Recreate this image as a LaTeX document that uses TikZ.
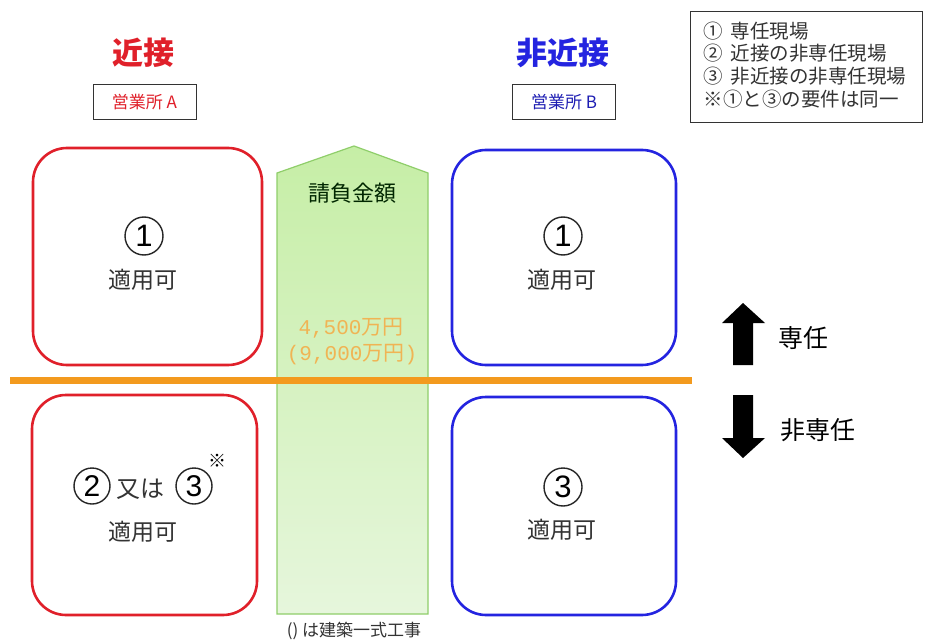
\documentclass[tikz,border=0pt]{standalone}
\usepackage{fontspec}
\setmainfont{Noto Sans CJK JP}
\newfontfamily\digitfont{Liberation Sans}
\newfontfamily\amountmono{Liberation Mono}
\definecolor{redbox}{HTML}{E0202A}
\definecolor{bluebox}{HTML}{2424E0}
\definecolor{greenedge}{HTML}{8FCE6A}
\definecolor{greentop}{HTML}{C6EEA6}
\definecolor{greenbot}{HTML}{E6F6DC}
\definecolor{orangeline}{HTML}{F39A1E}
\definecolor{amount}{HTML}{F0B454}
\definecolor{textgray}{HTML}{333333}
\tikzset{
  zone/.style={rounded corners=34pt, line width=2.6pt},
  office/.style={draw=textgray, line width=1pt, minimum width=103pt, minimum height=35pt, font=\fontsize{17}{17}\selectfont},
  circnum/.style={circle, draw=black!85, line width=1.4pt, minimum size=38pt, inner sep=0pt, font=\digitfont\fontsize{31}{31}\selectfont, text=black},
  circsmall/.style={circnum, minimum size=36pt, font=\digitfont\fontsize{30}{30}\selectfont},
  okay/.style={font=\fontsize{23}{23}\selectfont, text=textgray},
  legend/.style={font=\fontsize{19.5}{19.5}\selectfont, text=textgray, anchor=west},
  bigarrow/.style={fill=black},
  amt/.style={font=\fontsize{21}{21}\selectfont, text=amount},
}
\begin{document}
\begin{tikzpicture}[x=1pt,y=-1pt]
\useasboundingbox (0,0) rectangle (925,644);
\fill[white] (0,0) rectangle (925,644);
% legend
\node[draw=textgray, line width=1.3pt, minimum width=232pt, minimum height=111pt, anchor=north west] (legendbox) at (690,11) {};
\node[legend] (l1) at (700,31) {①\hspace{0.4em}専任現場};
\node[legend] (l2) at (700,53) {②\hspace{0.4em}近接の非専任現場};
\node[legend] (l3) at (700,76) {③\hspace{0.4em}非近接の非専任現場};
\node[legend] (l4) at (700,99) {※①と③の要件は同一};
% headings
\node[font=\fontsize{31}{31}\selectfont\bfseries, text=redbox] (near) at (143,53) {近接};
\node[office, text=redbox] (offA) at (144.5,102.5) {営業所 A};
\node[font=\fontsize{31}{31}\selectfont\bfseries, text=bluebox] (far) at (563,53) {非近接};
\node[office, text=bluebox!80!black] (offB) at (564,102.5) {営業所 B};
% green amount column
\shade[top color=greentop, bottom color=greenbot, draw=greenedge, line width=1.2pt]
  (277,614) -- (277,173) -- (354,146) -- (428,173) -- (428,614) -- cycle;
\node[font=\fontsize{22}{22}\selectfont, text=black!85!green] (amounttitle) at (352,193) {請負金額};
\node[amt] (amt1) at (351,328) {{\amountmono 4,500}万円};
\node[amt] (amt2) at (352,355) {{\amountmono (9,000}万円{\amountmono )}};
\node[font=\fontsize{17}{17}\selectfont, text=textgray] (note) at (354,631) {() は建築一式工事};
% zones
\draw[zone, draw=redbox] (33,148) rectangle (262,365);
\draw[zone, draw=redbox] (32,395) rectangle (257,615);
\draw[zone, draw=bluebox] (452,150) rectangle (676,365);
\draw[zone, draw=bluebox] (452,397) rectangle (676,615);
% zone contents
\node[circnum] (a1) at (144,236) {1};
\node[okay] (a1ok) at (143,280) {適用可};
\node[circsmall] (a2) at (92,486) {2};
\node[font=\fontsize{24}{24}\selectfont, text=textgray] (orwa) at (140,489) {又は};
\node[circsmall] (a3) at (194,486) {3};
\node[font=\fontsize{18}{18}\selectfont\bfseries] (mark) at (217,461) {※};
\node[okay] (a23ok) at (143,532) {適用可};
\node[circnum] (b1) at (563,236) {1};
\node[okay] (b1ok) at (562,280) {適用可};
\node[circnum] (b3) at (563,487) {3};
\node[okay] (b3ok) at (562,530) {適用可};
% orange threshold line
\draw[orangeline, line width=7pt] (10,380) -- (692,380);
% arrows
\fill[bigarrow] (733,365) -- (733,323) -- (722,323) -- (743,303) -- (765,323) -- (753,323) -- (753,365) -- cycle;
\fill[bigarrow] (733,395) -- (733,438) -- (722,438) -- (743,458) -- (765,438) -- (753,438) -- (753,395) -- cycle;
\node[font=\fontsize{25}{25}\selectfont, text=black] (sennin) at (803,338) {専任};
\node[font=\fontsize{25}{25}\selectfont, text=black] (hisennin) at (818,430) {非専任};
\end{tikzpicture}
\end{document}
